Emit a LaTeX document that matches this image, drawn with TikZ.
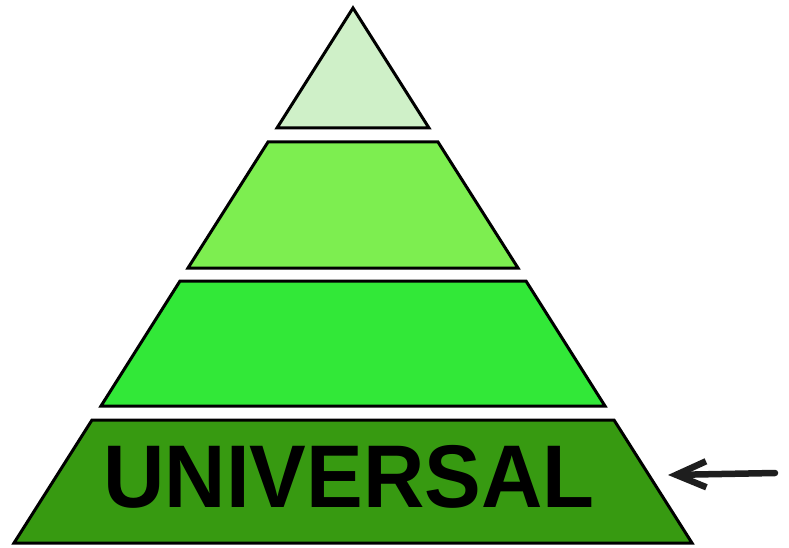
\documentclass[tikz,border=0pt]{standalone}
\usepackage{fontspec}
\setmainfont{Liberation Sans}
\usetikzlibrary{arrows.meta,positioning}
\definecolor{tierone}{RGB}{207,240,200}
\definecolor{tiertwo}{RGB}{125,238,80}
\definecolor{tierthree}{RGB}{50,232,56}
\definecolor{tierfour}{RGB}{55,154,17}
\definecolor{inkgray}{RGB}{30,30,30}
\tikzset{
tier/.style={draw=black,line width=3pt,line join=miter},
levellabel/.style={font=\bfseries\fontsize{89}{89}\selectfont,xscale=.955,inner sep=0pt},
pointer/.style={-{Straight Barb[length=30pt,width=26pt,line width=6.5pt]},line width=6.5pt,line cap=round,draw=inkgray}
}
\begin{document}
\begin{tikzpicture}[x=1pt,y=-1pt]
\useasboundingbox (0,0) rectangle (789,548);
% tiers, top to bottom
\draw[tier,fill=tierone](353,8)--(429,128)--(277,128)--cycle;
\draw[tier,fill=tiertwo](268,142)--(438,142)--(518,268)--(188,268)--cycle;
\draw[tier,fill=tierthree](180,281)--(526,281)--(605,406)--(101,406)--cycle;
\draw[tier,fill=tierfour](92,420)--(614,420)--(692,543)--(14,543)--cycle;
\node[levellabel](universal) at (349,477){UNIVERSAL};
% pointer
\coordinate(tail) at (775,473);
\coordinate(head) at (668,475);
\draw[pointer](tail)--(head);
\end{tikzpicture}
\end{document}
